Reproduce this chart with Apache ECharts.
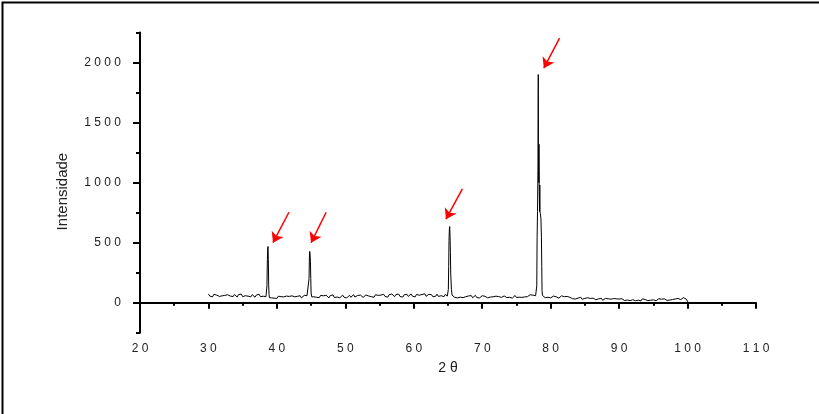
<!DOCTYPE html>
<html>
<head>
<meta charset="utf-8">
<script src="https://cdn.jsdelivr.net/npm/echarts@6/dist/echarts.min.js"></script>
<style>html,body{margin:0;padding:0;background:#fff;}#c{width:819px;height:414px;}</style>
</head>
<body>
<div id="c"></div>
<script>
// ---- data (2θ in degrees, intensity in counts) ----
const STEP = 0.2;
// background segments: [start 2θ, values every STEP]
const bg30 = [30.0, [72,55,66,48,70,58,63,75,52,67, 57,70,61,49,66,74,55,64,51,69, 60,47,68,56,71,50,65,58,73,54, 62,49,67,56,45,64,53,70,50,59, 54,47]];
const bg39 = [39.2, [40,56,38,51,35,54,43,50,36, 48,39,55,41,52,37,57,42,49,34, 53,44,58,40,49,61,45,58]];
const bg45 = [45.4, [49,64,45,58,42,61,50,57, 44,62,53,40,59,48,65,43,56,47, 60,41,55,63,46,58,39,52,62,45, 55,66,47,41,60,50,63,52,44,57, 64,48,56,69,50,58,45,66,53,61, 49,63,55,70,52,59,46,67,55,72, 58,50,68,54,71,51,60,47,66,55, 70,52,59,73,54,65,48,69,57,62, 51,68,58,74,53,61,70,55,66,49, 63,54,71,52,67,58,72,50,69,57]];
const bg66 = [66.0, [44,58,40,55,46,60,42,57,50,38, 56,45,59,41,52,61,43,55,39,50, 58,42,53,62,40,56,47,60,49,41, 54,39,51,58,44,37,56,47,42,53, 45,57,38,52,60,43,54,46,59,44, 55,48,61,50,58,66,52,63,70]];
const bg79 = [79.0, [58,42,52,45,60,40,51,55,43,49, 53,38,47,57,41,50,39,52,36,45, 44,33,47,30,42,38,31,45,28,40, 36,27,41,25,35,30,38,28,24,33, 32,22,37,20,31,35,23,33,26,29, 27,34,21,32,24,30,19,33,27,18, 31,22,34,17,29,25,33,16,30,21, 28,15,32,22,26,34,17,29,20,31, 24,30,16,27,33,18,29,21,32,25, 19,30,22,34,26,17,31,24,35,28]];
// peaks and tail: [2θ, counts]
const peak387 = [[38.4,50],[38.5,58],[38.55,140],[38.6,330],[38.65,440],[38.7,468],[38.75,360],[38.8,150],[38.85,70],[38.9,42],[39.0,50]];
const peak448 = [[44.5,52],[44.6,60],[44.7,200],[44.75,380],[44.8,427],[44.85,400],[44.9,344],[44.95,200],[45.0,80],[45.1,48],[45.2,56]];
const peak652 = [[64.9,55],[65.0,62],[65.05,110],[65.1,300],[65.15,520],[65.2,610],[65.25,634],[65.3,550],[65.35,420],[65.4,240],[65.5,110],[65.6,62],[65.7,48],[65.8,55]];
const peak782 = [[77.8,58],[77.9,70],[77.97,140],[78.02,545],[78.08,760],[78.14,1100],[78.19,1900],[78.21,1320],[78.24,1330],[78.27,1000],[78.29,1320],[78.32,990],[78.35,1000],[78.38,760],[78.41,980],[78.44,760],[78.5,740],[78.58,700],[78.65,545],[78.7,300],[78.74,100],[78.8,60],[78.9,48]];
const tail = [[99.0,26],[99.2,30],[99.4,42],[99.5,55],[99.6,40],[99.8,30],[100.0,14],[100.1,3]];
// arrows: [from 2θ, from counts, to 2θ, to counts]
const arrows = [[41.76,753,39.43,500],[47.2,753,45.0,500],[67.1,947,64.7,695],[81.3,2203,79.0,1953]];
const xTicks = [20,30,40,50,60,70,80,90,100,110];
const yTicks = [0,500,1000,1500,2000];

function expand(seg){ return seg[1].map((v,i)=>[+(seg[0]+i*STEP).toFixed(2), v]); }
const pattern = [].concat(expand(bg30), peak387, expand(bg39), peak448, expand(bg45), peak652, expand(bg66), peak782, expand(bg79), tail);

const FONT = "'Liberation Sans', Arial, sans-serif";
const spaced = v => String(v).split('').join(' ');

const chart = echarts.init(document.getElementById('c'), null, {renderer:'canvas'});
chart.setOption({
  animation: false,
  backgroundColor: '#fff',
  grid: {left: 140, right: 63, top: 32.5, bottom: 81.3},
  xAxis: {
    type: 'value', min: xTicks[0], max: xTicks[xTicks.length-1], interval: 10,
    name: '2 θ', nameLocation: 'middle', nameGap: 28,
    nameTextStyle: {fontFamily: FONT, fontSize: 14, color: '#222'},
    axisLine: {lineStyle: {color: '#000', width: 2}},
    axisTick: {length: 6, lineStyle: {color: '#000', width: 2}},
    minorTick: {show: true, splitNumber: 2, length: 3, lineStyle: {color: '#000', width: 2}},
    axisLabel: {formatter: spaced, fontFamily: FONT, fontSize: 12, color: '#222', margin: 10},
    splitLine: {show: false}
  },
  yAxis: [{
    type: 'value', min: -250, max: 2250, interval: 250,
    name: 'Intensidade', nameLocation: 'middle', nameGap: 70,
    nameTextStyle: {fontFamily: FONT, fontSize: 15, color: '#222', padding: [0, 18, 0, 0]},
    axisLine: {lineStyle: {color: '#000', width: 2}},
    axisTick: {length: 4, lineStyle: {color: '#000', width: 2}},
    axisLabel: {show: false},
    splitLine: {show: false}
  }, {
    type: 'value', min: -250, max: 2250, position: 'left', offset: 0,
    axisLine: {show: false},
    axisTick: {show: true, customValues: yTicks, length: 7, lineStyle: {color: '#000', width: 2}},
    axisLabel: {customValues: yTicks, formatter: spaced, fontFamily: FONT, fontSize: 12, color: '#222', margin: 19},
    splitLine: {show: false}
  }],
  series: [{
    type: 'line', data: pattern, showSymbol: false, symbol: 'none',
    lineStyle: {color: '#000', width: 1}, z: 3,
    markLine: {
      silent: true, symbol: ['none', 'arrow'], symbolSize: 10, animation: false,
      label: {show: false},
      lineStyle: {color: '#ff0000', width: 1.5, type: 'solid'},
      itemStyle: {color: '#ff0000'},
      emphasis: {disabled: true},
      data: arrows.map(a => [{coord: [a[0], a[1]]}, {coord: [a[2], a[3]]}])
    }
  }],
  graphic: [{
    type: 'rect', left: 0, top: 0, silent: true,
    shape: {x: 0, y: 0, width: 818, height: 413},
    style: {fill: 'none', stroke: '#000', lineWidth: 2}
  }]
});
</script>
</body>
</html>
